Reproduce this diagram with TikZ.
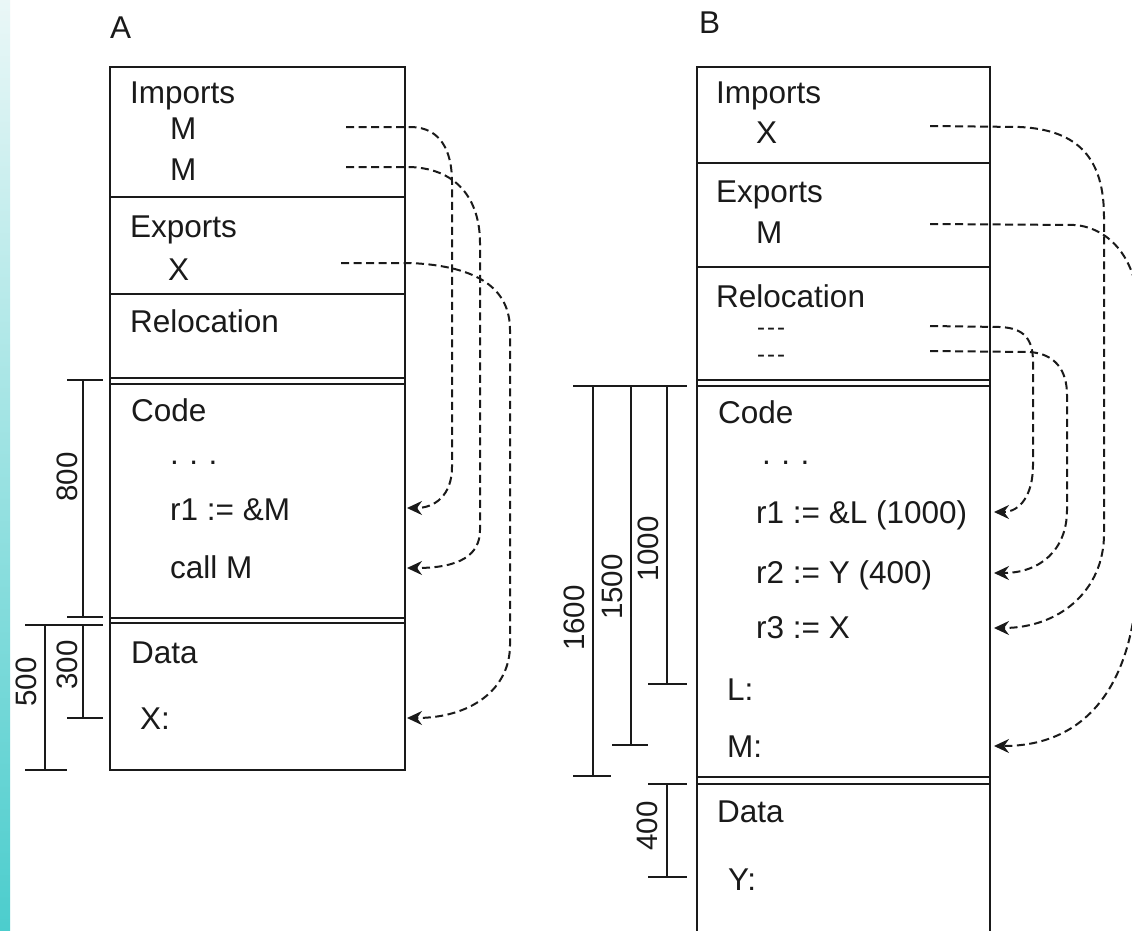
\documentclass[tikz,border=0pt]{standalone}
\usepackage{fontspec}
\setmainfont{Liberation Sans}
\usetikzlibrary{arrows.meta}
\definecolor{striptop}{HTML}{EAF7F7}
\definecolor{stripbot}{HTML}{4CCDCD}
\definecolor{ink}{HTML}{1A1A1A}
\begin{document}
\begin{tikzpicture}[x=1pt,y=-1pt,
  box/.style={line width=2.6pt,draw=ink},
  sepline/.style={line width=2pt,draw=ink},
  dim/.style={line width=2.3pt,draw=ink},
  txt/.style={anchor=base west,inner sep=0pt,text=ink,font=\fontsize{31.5}{36}\selectfont},
  dashtxt/.style={anchor=base west,inner sep=0pt,text=ink,font=\fontsize{24}{26}\selectfont},
  num/.style={inner sep=0pt,rotate=90,text=ink,font=\fontsize{29.5}{34}\selectfont},
  link/.style={line width=2pt,draw=ink,dash pattern=on 8pt off 4.5pt,
    -{Stealth[length=15pt,width=14pt,inset=5pt]}}]
\useasboundingbox (0,0) rectangle (1132,930);
\clip (0,0) rectangle (1132,930);
\fill[white] (0,0) rectangle (1132,930);
\shade[top color=striptop,bottom color=stripbot] (0,0) rectangle (10,930);

% ---------------- A ----------------
\node[txt] (labA) at (110,38) {A};
\draw[box] (110,67) rectangle (405,770);
\draw[sepline] (110,197) -- (405,197);
\draw[sepline] (110,294) -- (405,294);
\draw[sepline] (110,378) -- (405,378) (110,383.5) -- (405,383.5);
\draw[sepline] (110,617.5) -- (405,617.5) (110,623) -- (405,623);

\node[txt] (aImp) at (130,103) {Imports};
\node[txt] (aM1) at (170,139) {M};
\node[txt] (aM2) at (170,180) {M};
\node[txt] (aExp) at (130,237) {Exports};
\node[txt] (aX) at (168,280) {X};
\node[txt] (aRel) at (130,332) {Relocation};
\node[txt] (aCode) at (131,421) {Code};
\node[txt] (aDots) at (170,464) {.\,\,.\,\,.};
\node[txt] (aR1) at (170,520) {r1 := \&M};
\node[txt] (aCall) at (170,578) {call M};
\node[txt] (aData) at (131,663) {Data};
\node[txt] (aXl) at (140,729) {X:};

% dimensions A
\draw[dim] (67,380) -- (103,380) (83,380) -- (83,617) (67,617) -- (103,617);
\draw[dim] (25,625) -- (103,625) (83,625) -- (83,718) (67,718) -- (103,718);
\draw[dim] (45,625) -- (45,770) (25,770) -- (67,770);
\node[num] (d800) at (67,477) {800};
\node[num] (d300) at (67,665) {300};
\node[num] (d500) at (26,682) {500};

% links A
\coordinate (aM1s) at (346,127);
\coordinate (aM2s) at (346,167);
\coordinate (aXs) at (341,263);
\coordinate (aR1t) at (407,508);
\coordinate (aCallt) at (407,568);
\coordinate (aXt) at (407,718);
\draw[link] (aM1s) -- (412,127) .. controls (440,128) and (452,150) .. (452,182)
  -- (452,467) .. controls (452,495) and (435,508) .. (aR1t);
\draw[link] (aM2s) -- (410,167) .. controls (462,169) and (480,205) .. (480,243)
  -- (480,530) .. controls (480,555) and (460,568) .. (aCallt);
\draw[link] (aXs) -- (410,263) .. controls (480,266) and (510,290) .. (510,330)
  -- (510,645) .. controls (510,690) and (470,718) .. (aXt);

% ---------------- B ----------------
\node[txt] (labB) at (699,33) {B};
\draw[box] (697,940) -- (697,67) -- (990,67) -- (990,940);
\draw[sepline] (697,163) -- (990,163);
\draw[sepline] (697,267) -- (990,267);
\draw[sepline] (697,380) -- (990,380) (697,386) -- (990,386);
\draw[sepline] (697,777) -- (990,777) (697,784) -- (990,784);

\node[txt] (bImp) at (716,103) {Imports};
\node[txt] (bX) at (756,143) {X};
\node[txt] (bExp) at (716,202) {Exports};
\node[txt] (bM) at (756,243) {M};
\node[txt] (bRel) at (716,307) {Relocation};
\node[dashtxt] (bD1) at (757,335) {-\kern2pt-\kern2pt-};
\node[dashtxt] (bD2) at (757,362) {-\kern2pt-\kern2pt-};
\node[txt] (bCode) at (718,423) {Code};
\node[txt] (bDots) at (762,464) {.\,\,.\,\,.};
\node[txt] (bR1) at (756,523) {r1 := \&L (1000)};
\node[txt] (bR2) at (756,583) {r2 := Y (400)};
\node[txt] (bR3) at (756,638) {r3 := X};
\node[txt] (bL) at (727,700) {L:};
\node[txt] (bMl) at (727,757) {M:};
\node[txt] (bData) at (717,822) {Data};
\node[txt] (bY) at (728,890) {Y:};

% dimensions B
\draw[dim] (573,386) -- (687,386);
\draw[dim] (593,386) -- (593,776) (573,776) -- (611,776);
\draw[dim] (631,386) -- (631,745) (612,745) -- (648,745);
\draw[dim] (667,386) -- (667,684) (648,684) -- (687,684);
\draw[dim] (648,784) -- (687,784) (667,784) -- (667,877) (648,877) -- (687,877);
\node[num] (d1000) at (648,549) {1000};
\node[num] (d1500) at (612,587) {1500};
\node[num] (d1600) at (574,618) {1600};
\node[num] (d400) at (647,826) {400};

% links B
\coordinate (bXs) at (930,126);
\coordinate (bMs) at (930,224);
\coordinate (bD1s) at (930,326);
\coordinate (bD2s) at (930,351);
\coordinate (bR1t) at (994,512);
\coordinate (bR2t) at (994,573);
\coordinate (bR3t) at (994,628);
\coordinate (bMt) at (994,746);
\draw[link] (bXs) -- (1020,127) .. controls (1080,130) and (1104,160) .. (1104,217)
  -- (1104,534) .. controls (1104,590) and (1060,628) .. (bR3t);
\draw[link] (bMs) -- (1075,225) .. controls (1110,228) and (1138,260) .. (1138,310)
  -- (1138,560) .. controls (1138,680) and (1090,746) .. (bMt);
\draw[link] (bD1s) -- (1000,327) .. controls (1025,328) and (1033,340) .. (1033,362)
  -- (1033,465) .. controls (1033,495) and (1020,512) .. (bR1t);
\draw[link] (bD2s) -- (1030,352) .. controls (1055,354) and (1067,370) .. (1067,395)
  -- (1067,510) .. controls (1067,550) and (1040,573) .. (bR2t);
\end{tikzpicture}
\end{document}
